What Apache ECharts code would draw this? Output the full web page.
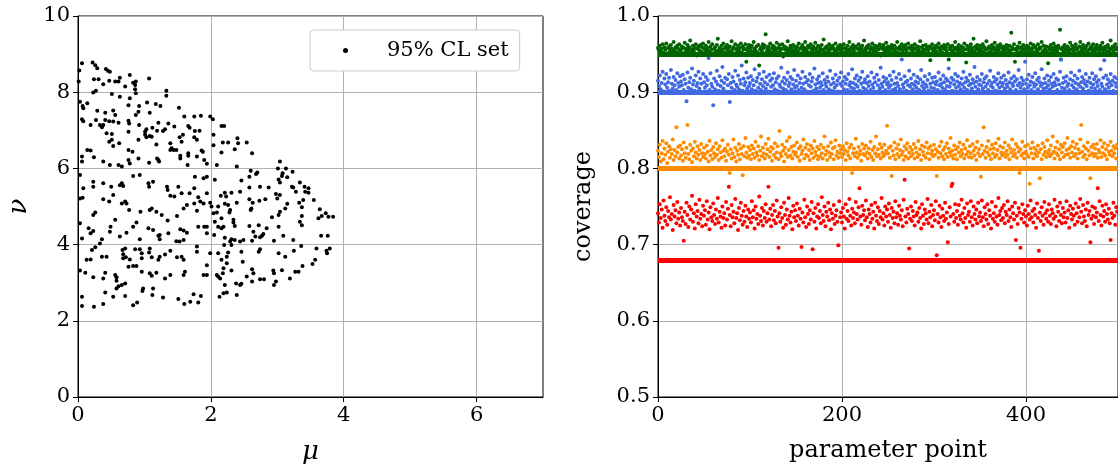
<!DOCTYPE html>
<html>
<head>
<meta charset="UTF-8" />
<title>Coverage</title>
<style>
  html, body { margin: 0; padding: 0; background: #fff; }
  #chart { width: 1118px; height: 476px; }
</style>
<script src="https://cdn.jsdelivr.net/npm/echarts@6/dist/echarts.min.js"></script>
</head>
<body>
<div id="chart"></div>
<script>
// 95% CL set, [mu, nu]
var clSet = [
  [0.06,8.76],[0.22,8.78],[0.26,8.71],[0.29,8.63],[0.42,8.61],[0.45,8.56],[0.48,8.54],[0.02,8.57],[0.24,8.34],[0.31,8.34],
  [0.38,8.21],[0.47,8.30],[0.56,8.28],[0.61,8.28],[0.63,8.38],[0.78,8.45],[0.83,8.25],[0.87,8.28],[0.86,8.19],[1.07,8.36],
  [0.71,8.15],[0.86,8.08],[0.87,7.97],[0.23,7.99],[0.27,8.04],[0.51,7.95],[0.63,7.88],[0.78,7.84],[1.33,8.04],[1.33,7.91],
  [0.01,8.28],[0.03,7.75],[0.07,7.64],[0.08,7.58],[0.14,7.71],[0.29,7.51],[0.41,7.46],[0.53,7.52],[0.56,7.40],[0.76,7.66],
  [0.92,7.64],[0.91,7.49],[0.87,7.40],[1.04,7.73],[1.08,7.46],[1.17,7.69],[1.24,7.64],[1.52,7.59],[0.06,7.29],[0.08,7.24],
  [0.19,7.14],[0.27,7.27],[0.33,7.14],[0.36,7.08],[0.38,7.14],[0.41,7.27],[0.47,7.24],[0.53,7.23],[0.61,7.20],[0.76,7.25],
  [0.77,7.18],[0.92,7.14],[1.01,6.96],[1.03,7.03],[1.08,6.85],[1.12,7.07],[1.21,7.20],[1.28,6.98],[1.31,7.03],[1.36,7.18],
  [1.45,7.10],[1.60,7.36],[1.75,7.36],[1.85,7.38],[1.99,7.36],[2.03,7.29],[1.66,7.11],[1.68,7.07],[1.76,6.98],[1.83,6.99],
  [2.04,6.88],[0.43,6.92],[0.51,6.90],[0.47,6.70],[0.51,6.75],[0.53,6.59],[0.62,6.66],[0.76,6.96],[0.91,6.75],[1.01,6.88],
  [1.03,6.82],[1.11,6.83],[1.19,6.99],[1.18,6.63],[1.39,6.66],[1.41,6.53],[1.44,6.48],[1.48,6.48],[1.53,6.82],[1.58,6.88],
  [1.56,6.70],[1.75,6.82],[1.79,6.75],[1.86,6.47],[2.04,6.61],[0.14,6.48],[0.19,6.47],[0.06,6.31],[0.06,6.18],[0.24,6.29],
  [0.38,6.18],[0.61,6.09],[0.76,6.48],[0.82,6.44],[0.76,6.22],[0.78,6.13],[0.91,6.26],[1.07,6.15],[1.19,6.26],[1.21,6.22],
  [1.22,6.18],[1.39,6.48],[1.54,6.33],[1.54,6.26],[1.66,6.40],[1.66,6.33],[1.65,6.09],[1.79,6.31],[1.88,6.44],[1.90,6.22],
  [1.94,6.12],[2.09,6.09],[0.48,6.09],[0.66,6.05],
  [0.03,5.83],[0.08,5.48],[0.23,5.65],[0.23,5.52],[0.38,5.61],[0.50,5.52],[0.63,5.56],[0.66,5.61],[0.68,5.54],[0.83,5.80],
  [0.93,5.83],[1.06,5.61],[1.07,5.52],[1.13,5.65],[1.34,5.52],[1.35,5.43],[1.51,5.52],[1.56,5.35],[1.76,5.78],[1.75,5.48],
  [1.89,5.74],[1.94,5.78],[2.06,5.70],[0.03,5.21],[0.07,5.23],[0.38,5.19],[0.47,5.13],[0.53,5.30],[0.66,5.08],[0.71,5.13],
  [0.73,5.08],[0.77,4.91],[0.94,4.86],[1.08,4.91],[1.11,4.95],[1.18,4.86],[1.26,4.78],[1.35,4.63],[1.39,5.28],[1.45,5.26],
  [1.49,4.75],[1.59,4.95],[1.64,5.04],[1.68,5.35],[1.75,5.08],[1.79,4.89],[1.81,5.24],[1.84,5.13],[1.89,5.08],[1.94,5.35],
  [1.99,5.10],[2.01,5.00],[2.04,4.82],[2.09,4.84],[2.11,5.00],[0.23,4.78],[0.26,4.84],[0.03,4.56],[0.16,4.43],[0.23,4.36],
  [0.19,4.30],[0.49,4.47],[0.48,4.34],[0.56,4.65],[0.63,4.21],[0.73,4.31],[0.83,4.47],[0.88,4.58],[0.93,4.14],[1.06,4.43],
  [1.13,4.38],[1.21,4.23],[1.23,4.14],[1.23,4.25],[1.36,4.30],[1.54,4.40],[1.59,4.37],[1.64,4.31],[1.48,4.09],[1.53,4.08],
  [1.59,4.12],[1.79,3.95],[1.81,4.47],[1.90,4.47],[1.94,4.47],[1.94,4.30],[2.05,4.25],[2.06,4.60],[2.11,4.47],[0.06,4.16],
  [0.33,4.03],[0.36,4.14],[0.26,3.93],[0.21,3.86],[0.13,3.60],[0.19,3.61],[0.36,3.68],[0.43,3.68],[0.67,3.86],[0.71,3.90],
  [0.68,3.75],[0.68,3.64],[0.72,3.67],[0.78,3.61],[0.86,3.88],[0.93,3.88],[0.96,3.77],[0.96,3.64],[1.08,3.90],[1.07,3.79],
  [1.11,3.67],[1.21,3.60],[1.23,3.68],[1.31,3.74],[1.39,3.84],[1.49,3.67],[1.56,3.68],[1.59,3.60],[1.79,3.81],[1.99,3.77],
  [2.11,3.77],[1.94,3.46],[0.03,3.32],[0.11,3.26],[0.23,3.14],[0.38,3.11],[0.41,3.26],[0.56,3.20],[0.58,3.14],[0.58,3.05],
  [0.61,2.91],[0.66,2.94],[0.76,3.42],[0.83,3.44],[0.88,3.44],[0.96,3.29],[1.08,3.25],[1.11,3.18],[1.18,3.26],[1.31,3.11],
  [1.39,3.20],[1.61,3.29],[1.59,3.20],[1.89,3.20],[1.94,3.20],[2.09,3.20],[2.11,3.16],[1.13,2.85],[0.98,2.85],[0.71,2.98],
  [0.58,2.85],
  [0.41,2.74],[0.97,2.78],[0.06,2.63],[0.06,2.39],[0.24,2.37],[0.38,2.44],[0.53,2.63],[0.71,2.65],[0.83,2.41],[0.89,2.48],
  [1.12,2.68],[1.28,2.61],[1.51,2.57],[1.60,2.44],[1.69,2.50],[1.74,2.70],[1.81,2.48],[1.85,2.65],[2.13,2.63],
  [2.16,7.11],[2.20,7.11],[2.40,6.79],[2.41,6.66],[2.54,6.68],[2.62,6.40],[2.36,6.50],[2.26,6.68],[2.18,6.68],[2.16,6.42],
  [2.39,6.05],[2.60,5.94],[2.68,5.85],[2.70,5.89],[2.58,5.78],[2.46,5.68],[3.04,6.18],[3.01,6.00],[3.13,6.00],[3.23,5.91],
  [3.08,5.87],[3.07,5.80],[3.02,5.71],[3.04,5.63],[3.15,5.77],[3.34,5.63],[3.22,5.52],[3.24,5.50],[3.41,5.52],[3.47,5.48],
  [3.42,5.39],[3.47,5.36],[3.28,5.39],[2.74,5.52],[2.87,5.50],[2.58,5.50],[2.44,5.39],[2.31,5.36],[2.21,5.36],[2.23,5.26],
  [2.15,5.28],[2.98,5.33],[3.04,5.30],[3.00,5.21],[2.82,5.19],[2.73,5.15],[2.58,5.19],[2.63,5.10],[2.61,4.95],[2.60,4.91],
  [2.39,5.10],[2.26,5.04],[2.21,5.07],[2.29,4.91],[2.28,4.84],[3.55,5.17],[3.39,5.17],[3.33,5.10],[3.37,4.98],[3.15,5.07],
  [3.12,4.95],[3.04,4.86],[3.02,4.78],[2.92,4.72],[3.37,4.75],[3.34,4.60],[3.37,4.51],[3.64,4.93],[3.73,4.82],[3.67,4.75],
  [3.62,4.69],[3.77,4.73],[3.84,4.73],[2.34,4.65],[2.34,4.58],[2.36,4.49],[2.16,4.69],[2.19,4.47],[2.16,4.43],[2.58,4.49],
  [2.72,4.51],[2.84,4.43],[3.02,4.47],[2.77,4.23],[2.79,4.28],[2.74,4.19],[2.64,4.34],[2.67,4.21],[2.62,4.10],[2.49,4.12],
  [2.44,4.08],[2.36,4.12],[2.31,4.14],[2.29,4.08],[2.21,4.18],[2.20,3.99],[2.31,3.99],[3.09,4.23],[2.95,4.10],[3.24,4.12],
  [3.36,3.96],[3.66,4.23],[3.76,4.23],[3.59,3.90],[3.74,3.84],[3.79,3.90],[3.75,3.77],[3.25,3.84],[3.02,3.77],[3.12,3.68],
  [2.74,3.88],[2.72,3.81],[2.46,3.81],[2.48,3.55],[2.26,3.79],[2.24,3.68],[2.16,3.60],[2.24,3.51],[2.19,3.38],[2.18,3.25],
  [2.14,3.11],[2.31,3.32],[2.62,3.35],[2.64,3.25],[2.54,3.16],[2.62,3.03],[2.74,3.09],[2.80,3.09],[2.94,3.32],[2.95,3.25],
  [2.98,3.03],[2.95,2.94],[3.07,3.33],[3.27,3.29],[3.32,3.29],[3.19,3.11],[3.38,3.44],[3.53,3.49],[3.57,3.60],[2.21,2.94],
  [2.19,2.72],[2.24,2.74],[2.39,2.68],[2.46,2.97],[2.44,2.94],[2.38,2.98]
];

// coverage per parameter point (index = parameter point)
var cov95 = [
  .958,.955,.961,.953,.957,.963,.952,.959,.956,.964,.951,.958,.960,.954,.962,.957,.953,.966,.955,.959,.952,.961,.957,.963,.954,
  .956,.960,.951,.958,.965,.953,.957,.962,.955,.959,.968,.952,.956,.961,.954,.958,.963,.948,.957,.960,.955,.962,.953,.959,.964,
  .957,.952,.961,.955,.958,.966,.953,.960,.956,.963,.951,.957,.959,.954,.962,.970,.955,.958,.953,.961,.956,.964,.952,.959,.957,
  .962,.954,.958,.960,.953,.967,.956,.959,.951,.963,.957,.955,.961,.954,.958,.964,.952,.960,.956,.957,.963,.940,.955,.959,.962,
  .954,.958,.961,.953,.966,.957,.955,.960,.952,.962,.935,.956,.959,.954,.963,.958,.961,.976,.953,.957,.960,.955,.964,.952,.958,
  .961,.954,.959,.956,.965,.952,.958,.962,.955,.957,.963,.947,.960,.956,.959,.954,.967,.957,.953,.961,.958,.955,.962,.953,.959,
  .956,.960,.953,.964,.957,.951,.959,.962,.955,.958,.966,.954,.957,.961,.952,.959,.963,.956,.953,.960,.957,.965,.954,.958,.961,
  .953,.959,.956,.962,.955,.969,.957,.952,.960,.958,.954,.963,.956,.959,.951,.961,.957,.955,.964,.953,.958,.960,.956,.962,.954,
  .959,.957,.963,.952,.958,.955,.961,.956,.966,.953,.959,.957,.962,.954,.958,.960,.951,.957,.963,.955,.959,.956,.961,.953,.968,
  .957,.954,.960,.958,.962,.952,.956,.959,.964,.955,.957,.961,.953,.958,.960,.956,.963,.948,.959,.957,.962,.954,.958,.965,.955,
  .960,.956,.953,.959,.962,.957,.955,.961,.954,.958,.966,.952,.957,.960,.956,.963,.953,.959,.957,.962,.955,.958,.964,.951,.959,
  .956,.961,.954,.958,.963,.957,.952,.960,.955,.959,.967,.953,.958,.961,.956,.954,.962,.957,.959,.955,.960,.942,.958,.963,.954,
  .958,.956,.961,.953,.959,.964,.957,.955,.960,.952,.958,.962,.956,.959,.954,.963,.943,.957,.960,.955,.961,.953,.958,.966,.956,
  .959,.954,.962,.957,.955,.960,.953,.958,.964,.956,.939,.961,.957,.954,.959,.963,.955,.958,.970,.953,.960,.956,.962,.957,.954,
  .961,.955,.958,.963,.953,.959,.956,.967,.957,.952,.960,.958,.954,.962,.956,.959,.965,.953,.957,.961,.955,.958,.963,.952,.959,
  .956,.960,.954,.958,.962,.957,.953,.961,.955,.978,.959,.956,.963,.940,.957,.954,.960,.958,.965,.953,.959,.956,.962,.955,.958,
  .957,.961,.953,.959,.956,.964,.955,.958,.962,.952,.960,.957,.954,.963,.956,.959,.958,.966,.953,.961,.955,.957,.960,.954,.938,
  .959,.956,.962,.953,.958,.964,.955,.960,.957,.954,.961,.958,.982,.943,.956,.959,.953,.962,.957,.955,.960,.958,.954,.965,.956,
  .961,.957,.953,.959,.963,.956,.958,.952,.960,.966,.955,.958,.962,.954,.959,.957,.961,.953,.964,.956,.958,.960,.955,.963,.957,
  .954,.959,.962,.956,.958,.953,.961,.957,.965,.955,.959,.956,.960,.953,.962,.958,.955,.968,.957,.960,.954,.959,.963,.956,.958
];
var cov90 = [
  .915,.908,.922,.904,.912,.927,.901,.918,.910,.924,.906,.913,.919,.902,.929,.911,.905,.920,.909,.916,.903,.925,.912,.907,.921,
  .914,.909,.923,.903,.917,.911,.888,.926,.906,.913,.919,.904,.931,.910,.915,.902,.922,.908,.912,.927,.905,.918,.911,.900,.924,
  .913,.906,.920,.909,.916,.945,.903,.925,.911,.907,.883,.918,.904,.914,.928,.910,.902,.921,.908,.915,.933,.905,.912,.919,.901,
  .917,.909,.924,.887,.912,.906,.920,.914,.903,.928,.910,.907,.922,.904,.916,.911,.935,.902,.918,.909,.913,.926,.905,.919,.908,
  .912,.921,.904,.916,.909,.930,.902,.914,.919,.906,.924,.911,.903,.917,.908,.927,.913,.905,.920,.910,.901,.923,.915,.907,.918,
  .909,.925,.904,.913,.918,.902,.921,.910,.907,.932,.914,.905,.919,.911,.903,.916,.926,.908,.912,.920,.904,.917,.910,.929,.906,
  .915,.908,.922,.903,.912,.918,.906,.927,.911,.904,.920,.913,.901,.916,.909,.924,.907,.914,.919,.902,.931,.910,.905,.917,.912,
  .921,.906,.913,.909,.925,.903,.916,.911,.907,.920,.914,.904,.928,.910,.902,.918,.912,.906,.923,.909,.915,.901,.919,.911,.926,
  .908,.914,.904,.920,.911,.917,.903,.924,.909,.913,.906,.930,.912,.905,.918,.910,.922,.907,.915,.902,.919,.911,.927,.906,.913,
  .917,.904,.912,.921,.908,.914,.903,.926,.910,.906,.919,.913,.901,.923,.909,.916,.905,.932,.911,.907,.920,.914,.903,.918,.910,
  .913,.906,.922,.909,.916,.903,.927,.911,.905,.919,.912,.908,.924,.904,.917,.943,.910,.906,.921,.913,.902,.915,.909,.928,.907,
  .918,.911,.904,.923,.909,.914,.906,.920,.912,.903,.917,.929,.908,.913,.905,.921,.910,.907,.916,.902,.924,.911,.906,.919,.913,
  .905,.920,.910,.914,.903,.926,.909,.917,.911,.906,.922,.913,.904,.918,.908,.915,.931,.907,.912,.919,.902,.916,.910,.924,.906,
  .914,.921,.908,.912,.904,.918,.910,.927,.906,.913,.919,.903,.915,.909,.923,.911,.905,.917,.912,.933,.907,.914,.920,.904,.910,
  .916,.909,.924,.905,.913,.918,.907,.921,.911,.903,.915,.928,.908,.912,.906,.920,.914,.902,.917,.910,.925,.906,.913,.919,.908,
  .912,.922,.905,.916,.910,.907,.926,.913,.904,.918,.911,.908,.921,.914,.903,.917,.909,.929,.912,.906,.919,.910,.915,.904,.940,
  .911,.917,.906,.923,.909,.914,.903,.920,.912,.907,.925,.910,.916,.904,.919,.913,.908,.930,.911,.905,.918,.912,.906,.922,.909,
  .915,.904,.920,.911,.907,.924,.913,.909,.918,.903,.916,.910,.927,.943,.906,.912,.919,.905,.914,.921,.908,.911,.903,.917,.926,
  .909,.915,.906,.922,.912,.904,.918,.910,.928,.907,.913,.920,.905,.916,.911,.924,.908,.914,.902,.919,.912,.906,.925,.910,.917,
  .905,.921,.913,.908,.916,.903,.930,.911,.907,.919,.942,.904,.922,.910,.917,.906,.913,.924,.909,.915,.902,.920,.912,.907,.918
];
var cov80 = [
  .823,.815,.831,.809,.820,.836,.812,.826,.818,.833,.807,.822,.829,.814,.825,.819,.838,.811,.824,.816,.854,.821,.828,.813,.830,
  .817,.825,.810,.834,.820,.814,.827,.857,.819,.812,.831,.823,.808,.826,.816,.835,.821,.813,.829,.818,.824,.811,.832,.820,.815,
  .827,.819,.813,.830,.822,.809,.836,.817,.824,.812,.828,.820,.815,.833,.818,.825,.811,.829,.821,.814,.837,.823,.816,.826,.810,
  .822,.831,.818,.794,.825,.813,.820,.838,.815,.827,.809,.823,.818,.832,.812,.826,.819,.791,.829,.816,.840,.821,.814,.828,.817,
  .824,.812,.830,.819,.826,.814,.835,.821,.817,.829,.811,.823,.842,.816,.827,.820,.813,.832,.818,.825,.839,.815,.822,.828,.810,
  .826,.818,.833,.814,.821,.829,.812,.849,.820,.816,.831,.823,.809,.827,.819,.836,.815,.824,.841,.817,.828,.813,.822,.830,.818,
  .821,.834,.815,.826,.810,.829,.819,.823,.838,.813,.827,.818,.832,.816,.824,.811,.830,.820,.826,.814,.836,.822,.817,.828,.812,
  .825,.816,.831,.820,.813,.827,.842,.818,.823,.811,.829,.821,.815,.834,.819,.826,.812,.828,.837,.817,.822,.814,.830,.820,.825,
  .815,.829,.819,.824,.811,.833,.822,.817,.827,.813,.831,.794,.820,.826,.816,.839,.821,.814,.828,.818,.823,.810,.832,.819,.826,
  .817,.830,.821,.813,.826,.819,.835,.815,.824,.811,.828,.820,.842,.816,.825,.818,.832,.813,.827,.821,.816,.831,.819,.823,.856,
  .820,.827,.814,.829,.790,.823,.817,.834,.812,.826,.819,.831,.815,.824,.838,.818,.822,.811,.829,.816,.825,.833,.813,.821,.828,
  .816,.824,.819,.832,.813,.827,.821,.815,.836,.818,.825,.811,.830,.822,.817,.828,.814,.834,.820,.826,.812,.829,.819,.823,.816,
  .831,.818,.825,.790,.822,.814,.829,.820,.835,.816,.824,.812,.828,.819,.833,.815,.826,.821,.840,.817,.823,.813,.830,.818,.825,
  .812,.828,.821,.834,.816,.824,.819,.831,.813,.826,.818,.837,.822,.815,.829,.820,.814,.832,.823,.817,.827,.811,.835,.820,.825,
  .816,.789,.830,.819,.854,.823,.814,.828,.821,.836,.817,.825,.812,.831,.820,.826,.815,.833,.818,.824,.839,.813,.829,.821,.817,
  .827,.820,.834,.815,.823,.818,.830,.812,.826,.821,.838,.816,.824,.819,.832,.814,.828,.822,.794,.825,.817,.835,.820,.813,.829,
  .822,.818,.831,.815,.780,.826,.820,.834,.813,.827,.819,.824,.816,.830,.821,.787,.825,.812,.833,.818,.828,.822,.815,.837,.820,
  .824,.816,.830,.819,.842,.822,.813,.827,.820,.835,.817,.825,.812,.831,.821,.828,.815,.833,.818,.824,.840,.819,.826,.814,.829,
  .821,.835,.816,.827,.819,.832,.813,.825,.820,.838,.857,.822,.815,.829,.818,.826,.812,.834,.823,.817,.787,.828,.820,.831,.816,
  .826,.819,.832,.814,.824,.821,.837,.815,.828,.820,.833,.817,.825,.812,.830,.822,.818,.835,.823,.816,.829,.820,.826,.813,.831
];
var cov68 = [
  .741,.729,.753,.735,.746,.722,.758,.738,.731,.749,.726,.744,.736,.762,.733,.740,.719,.752,.737,.745,.728,.756,.734,.742,.725,
  .748,.736,.731,.705,.743,.727,.755,.739,.723,.750,.733,.746,.764,.730,.741,.721,.753,.737,.744,.728,.759,.734,.740,.724,.751,
  .738,.745,.726,.757,.733,.742,.720,.749,.736,.731,.754,.739,.727,.746,.734,.761,.729,.743,.737,.722,.750,.735,.741,.725,.756,
  .733,.747,.776,.739,.724,.752,.736,.743,.728,.760,.735,.741,.719,.748,.732,.755,.738,.726,.744,.730,.751,.737,.723,.746,.734,
  .742,.729,.757,.736,.745,.721,.750,.734,.740,.727,.763,.738,.731,.748,.725,.744,.735,.753,.730,.741,.776,.733,.747,.724,.739,
  .752,.732,.744,.728,.758,.737,.696,.741,.730,.749,.735,.722,.755,.739,.726,.746,.733,.761,.738,.729,.743,.720,.751,.736,.745,
  .731,.754,.738,.725,.747,.734,.697,.742,.729,.759,.736,.723,.750,.740,.727,.745,.733,.756,.694,.741,.730,.748,.721,.737,.753,
  .735,.744,.728,.762,.739,.731,.750,.724,.743,.737,.755,.732,.746,.720,.741,.734,.752,.727,.738,.745,.730,.699,.757,.736,.742,
  .729,.748,.737,.721,.753,.734,.744,.731,.760,.738,.725,.747,.735,.742,.728,.756,.740,.733,.749,.774,.737,.726,.751,.739,.745,
  .732,.758,.736,.723,.746,.740,.729,.752,.734,.743,.721,.755,.738,.731,.749,.727,.744,.736,.761,.733,.741,.725,.750,.737,.746,
  .730,.754,.739,.722,.748,.735,.743,.728,.757,.736,.741,.726,.751,.738,.733,.745,.724,.759,.785,.737,.729,.747,.740,.695,.734,
  .750,.731,.744,.737,.725,.756,.739,.742,.730,.748,.735,.721,.753,.738,.727,.746,.741,.733,.760,.728,.743,.736,.752,.724,.739,
  .745,.732,.757,.686,.740,.729,.751,.736,.723,.747,.738,.731,.755,.734,.742,.703,.727,.749,.737,.777,.780,.740,.730,.753,.735,
  .744,.726,.752,.738,.733,.759,.741,.729,.748,.735,.722,.754,.739,.743,.730,.757,.736,.725,.750,.740,.733,.746,.728,.755,.737,
  .742,.731,.758,.736,.724,.749,.740,.733,.753,.727,.745,.738,.721,.756,.734,.741,.730,.750,.737,.726,.761,.739,.744,.732,.748,
  .735,.752,.728,.743,.739,.757,.731,.746,.736,.723,.750,.741,.733,.755,.706,.738,.727,.748,.742,.696,.734,.753,.740,.729,.745,
  .737,.725,.751,.740,.733,.758,.736,.744,.729,.747,.739,.722,.754,.735,.692,.742,.731,.749,.738,.726,.756,.741,.734,.745,.730,
  .753,.738,.727,.746,.741,.734,.759,.737,.724,.750,.743,.731,.755,.739,.728,.748,.736,.742,.729,.757,.735,.745,.722,.751,.740,
  .733,.747,.738,.726,.754,.741,.730,.749,.736,.760,.743,.728,.752,.737,.731,.746,.724,.755,.739,.744,.703,.734,.750,.738,.727,
  .748,.736,.742,.774,.731,.757,.739,.725,.751,.737,.744,.730,.753,.740,.733,.747,.728,.706,.741,.735,.755,.738,.726,.749,.743
];

var coverageSets = [cov95, cov90, cov80, cov68];
var nominal = [0.95, 0.9, 0.8, 0.68];
var colors = ['#006400', '#4169e1', '#ff8c00', '#ff0000'];
var muTicks = [0, 2, 4, 6];

var FONT = 'DejaVu Serif';
var chart = echarts.init(document.getElementById('chart'));

function axisBase() {
  return {
    axisLine: { show: true, onZero: false, lineStyle: { color: '#000', width: 1 } },
    axisTick: { show: true, inside: false, length: 5, lineStyle: { color: '#000' } },
    axisLabel: { color: '#000', fontFamily: FONT, fontSize: 21, margin: 8 },
    splitLine: { show: true, lineStyle: { color: '#b0b0b0', width: 1 } },
    nameTextStyle: { color: '#000', fontFamily: FONT, fontSize: 24 }
  };
}

function mergeAxis(extra) {
  var a = axisBase();
  for (var k in extra) {
    if (typeof extra[k] === 'object' && a[k] && !Array.isArray(extra[k])) {
      for (var j in extra[k]) a[k][j] = extra[k][j];
    } else {
      a[k] = extra[k];
    }
  }
  return a;
}

var series = [{
  name: '95% CL set',
  type: 'scatter',
  xAxisIndex: 0,
  yAxisIndex: 0,
  symbolSize: 4,
  itemStyle: { color: '#000', opacity: 1 },
  data: clSet
}];

coverageSets.forEach(function (vals, i) {
  series.push({
    name: 'cov' + nominal[i],
    type: 'scatter',
    xAxisIndex: 1,
    yAxisIndex: 1,
    symbolSize: 4,
    itemStyle: { color: colors[i], opacity: 1 },
    data: vals.map(function (v, k) { return [k, v]; }),
    markLine: {
      silent: true,
      symbol: 'none',
      label: { show: false },
      lineStyle: { color: colors[i], width: 5, type: 'solid' },
      data: [{ yAxis: nominal[i] }]
    }
  });
});

var option = {
  animation: false,
  backgroundColor: '#fff',
  grid: [
    { left: 78, right: 575, top: 16, bottom: 79, show: true, borderColor: '#000', borderWidth: 1, backgroundColor: 'transparent' },
    { left: 658, right: -3, top: 16, bottom: 79, show: true, borderColor: '#000', borderWidth: 1, backgroundColor: 'transparent' }
  ],
  legend: {
    data: ['95% CL set'],
    left: 310,
    top: 30,
    icon: 'circle',
    itemWidth: 5,
    itemHeight: 5,
    padding: [10, 11, 10, 33],
    borderColor: '#cccccc',
    borderWidth: 1,
    borderRadius: 4,
    backgroundColor: '#fff',
    textStyle: { color: '#000', fontFamily: FONT, fontSize: 21, padding: [0, 0, 0, 34] }
  },
  xAxis: [
    mergeAxis({
      gridIndex: 0, type: 'value', min: 0, max: 7, interval: 2,
      name: 'μ', nameLocation: 'middle', nameGap: 42,
      nameTextStyle: { fontStyle: 'italic', fontSize: 26 },
      axisTick: { customValues: muTicks },
      axisLabel: { customValues: muTicks }
    }),
    mergeAxis({
      gridIndex: 1, type: 'value', min: 0, max: 500, interval: 200,
      name: 'parameter point', nameLocation: 'middle', nameGap: 42,
      axisLabel: { showMaxLabel: false }
    })
  ],
  yAxis: [
    mergeAxis({
      gridIndex: 0, type: 'value', min: 0, max: 10, interval: 2,
      name: 'ν', nameLocation: 'middle', nameGap: 46, nameRotate: 90,
      nameTextStyle: { fontStyle: 'italic', fontSize: 26 }
    }),
    mergeAxis({
      gridIndex: 1, type: 'value', min: 0.5, max: 1.0, interval: 0.1,
      name: 'coverage', nameLocation: 'middle', nameGap: 62, nameRotate: 90,
      axisLabel: { formatter: function (v) { return v.toFixed(1); } }
    })
  ],
  series: series
};

chart.setOption(option);
</script>
</body>
</html>
